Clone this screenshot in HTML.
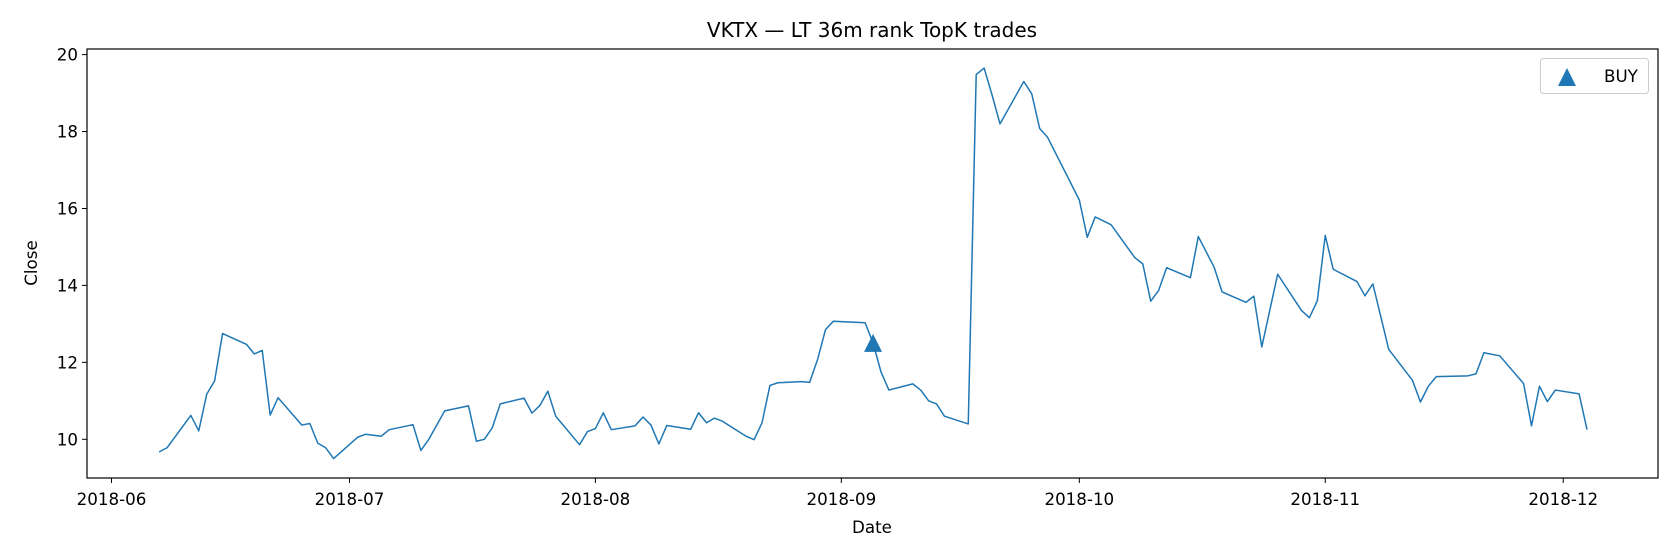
<!DOCTYPE html>
<html><head><meta charset="utf-8">
<style>
html,body{margin:0;padding:0;background:#fff;}
svg{display:block;font-family:"DejaVu Sans","Liberation Sans",sans-serif;}
</style></head>
<body>
<svg id="chart" width="1680" height="560" viewBox="0 0 1680 560" xmlns="http://www.w3.org/2000/svg">
<text x="872" y="37" font-size="20" text-anchor="middle" fill="#000">VKTX — LT 36m rank TopK trades</text>
<g id="plot"></g>
<text x="872" y="533" font-size="16.7" text-anchor="middle" fill="#000">Date</text>
<text transform="translate(37,263) rotate(-90)" font-size="16.7" text-anchor="middle" fill="#000">Close</text>
<g>
<rect x="1540.5" y="58.5" width="108" height="35" rx="3" fill="#fff" stroke="#ccc" stroke-width="1"/>
<polygon points="1567,68 1576,86 1558,86" fill="#1f77b4"/>
<text x="1604" y="82" font-size="16.7" fill="#000">BUY</text>
</g>
</svg>
<script>
const dates=["2018-06-07","2018-06-08","2018-06-11","2018-06-12","2018-06-13","2018-06-14","2018-06-15","2018-06-18","2018-06-19","2018-06-20","2018-06-21","2018-06-22","2018-06-25","2018-06-26","2018-06-27","2018-06-28","2018-06-29","2018-07-02","2018-07-03","2018-07-05","2018-07-06","2018-07-09","2018-07-10","2018-07-11","2018-07-13","2018-07-16","2018-07-17","2018-07-18","2018-07-19","2018-07-20","2018-07-23","2018-07-24","2018-07-25","2018-07-26","2018-07-27","2018-07-30","2018-07-31","2018-08-01","2018-08-02","2018-08-03","2018-08-06","2018-08-07","2018-08-08","2018-08-09","2018-08-10","2018-08-13","2018-08-14","2018-08-15","2018-08-16","2018-08-17","2018-08-20","2018-08-21","2018-08-22","2018-08-23","2018-08-24","2018-08-27","2018-08-28","2018-08-29","2018-08-30","2018-08-31","2018-09-04","2018-09-05","2018-09-06","2018-09-07","2018-09-10","2018-09-11","2018-09-12","2018-09-13","2018-09-14","2018-09-17","2018-09-18","2018-09-19","2018-09-20","2018-09-21","2018-09-24","2018-09-25","2018-09-26","2018-09-27","2018-10-01","2018-10-02","2018-10-03","2018-10-05","2018-10-08","2018-10-09","2018-10-10","2018-10-11","2018-10-12","2018-10-15","2018-10-16","2018-10-18","2018-10-19","2018-10-22","2018-10-23","2018-10-24","2018-10-26","2018-10-29","2018-10-30","2018-10-31","2018-11-01","2018-11-02","2018-11-05","2018-11-06","2018-11-07","2018-11-09","2018-11-12","2018-11-13","2018-11-14","2018-11-15","2018-11-19","2018-11-20","2018-11-21","2018-11-23","2018-11-26","2018-11-27","2018-11-28","2018-11-29","2018-11-30","2018-12-03","2018-12-04"];
const closes=[9.67,9.78,10.62,10.22,11.17,11.52,12.75,12.47,12.22,12.31,10.63,11.08,10.37,10.41,9.9,9.78,9.5,10.05,10.13,10.08,10.25,10.38,9.71,10.0,10.74,10.87,9.95,10.0,10.3,10.92,11.07,10.68,10.88,11.25,10.6,9.86,10.2,10.28,10.69,10.25,10.35,10.58,10.37,9.88,10.36,10.26,10.69,10.43,10.55,10.47,10.08,9.99,10.43,11.4,11.47,11.5,11.48,12.07,12.85,13.07,13.03,12.5,11.75,11.28,11.44,11.28,11.0,10.92,10.6,10.4,19.48,19.65,18.95,18.2,19.3,18.98,18.08,17.85,16.22,15.25,15.78,15.58,14.72,14.56,13.59,13.87,14.46,14.2,15.27,14.47,13.83,13.56,13.72,12.4,14.29,13.35,13.16,13.6,15.3,14.42,14.1,13.73,14.04,12.34,11.53,10.97,11.38,11.63,11.65,11.7,12.25,12.17,11.45,10.35,11.38,10.98,11.28,11.18,10.25];
const buyDates=["2018-09-05"];
const buyValues=[12.48];
const yTicks=[10,12,14,16,18,20];
const xTickDates=["2018-06-01","2018-07-01","2018-08-01","2018-09-01","2018-10-01","2018-11-01","2018-12-01"];
const xTickLabels=["2018-06","2018-07","2018-08","2018-09","2018-10","2018-11","2018-12"];

const NS="http://www.w3.org/2000/svg";
const L=87,R=1658,T=49,B=478;
const day0=Date.UTC(2018,5,1);
function dnum(s){const p=s.split("-");return (Date.UTC(+p[0],+p[1]-1,+p[2])-day0)/86400000;}
function xs(s){return 111.5+dnum(s)*7.933;}
function ys(v){return 439.3-(v-10)*38.47;}
const g=document.getElementById("plot");
function mk(tag,attrs){const e=document.createElementNS(NS,tag);for(const k in attrs)e.setAttribute(k,attrs[k]);g.appendChild(e);return e;}

let d="";
dates.forEach((s,i)=>{d+=(i?"L":"M")+xs(s).toFixed(2)+","+ys(closes[i]).toFixed(2);});
const line=mk("path",{d:d,fill:"none",stroke:"#1f77b4","stroke-width":1.5,"stroke-linejoin":"round"});



buyDates.forEach((s,i)=>{
  const x=xs(s),y=ys(buyValues[i]);
  const m=mk("polygon",{points:`${x},${y-10} ${x+9},${y+8} ${x-9},${y+8}`,fill:"#1f77b4"});
  
  
});

yTicks.forEach(v=>{
  const y=ys(v);
  const t=mk("line",{x1:L-5,x2:L,y1:y,y2:y,stroke:"#000","stroke-width":1});
  
  
  const tx=mk("text",{x:L-9,y:y+6,"font-size":16.7,"text-anchor":"end",fill:"#000"});
  tx.textContent=String(v);
  
  
});
xTickDates.forEach((s,i)=>{
  const x=xs(s);
  const t=mk("line",{x1:x,x2:x,y1:B,y2:B+5,stroke:"#000","stroke-width":1});
  
  
  const tx=mk("text",{x:x,y:B+27,"font-size":16.7,"text-anchor":"middle",fill:"#000"});
  tx.textContent=xTickLabels[i];
  
  
});
const frame=mk("rect",{x:L,y:T,width:R-L,height:B-T,fill:"none",stroke:"#000","stroke-width":1.2});


</script>
</body></html>
